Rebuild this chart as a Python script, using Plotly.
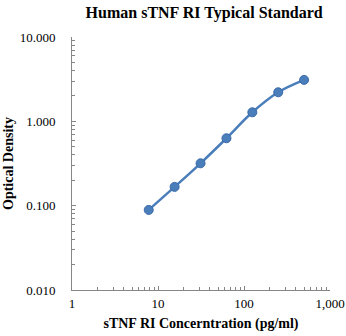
import plotly.graph_objects as go

conc = [7.8, 15.6, 31.25, 62.5, 125, 250, 500]
od = [0.089, 0.167, 0.318, 0.63, 1.28, 2.21, 3.10]

x_tickvals = [1, 10, 100, 1000]
x_ticktext = ["1", "10", "100", "1,000"]
y_tickvals = [0.01, 0.1, 1, 10]
y_ticktext = ["0.010", "0.100", "1.000", "10.000"]

x_minor = [m * d for d in (1, 10, 100) for m in range(2, 10)]
y_minor = [m * d for d in (0.01, 0.1, 1) for m in range(2, 10)]

serif = "Liberation Serif, Times New Roman, serif"
axis_col = "#868686"

fig = go.Figure()
fig.add_trace(go.Scatter(
    x=conc, y=od, mode="lines+markers",
    line=dict(color="#4a7ebb", width=2.5, shape="spline"),
    marker=dict(size=9, color="#4a7ebb", line=dict(color="#3a6aa8", width=1)),
    showlegend=False,
))

fig.update_layout(
    width=346, height=336,
    margin=dict(l=72, r=16, t=37, b=46),
    paper_bgcolor="white", plot_bgcolor="white",
    title=dict(text="<b>Human sTNF RI Typical Standard</b>", x=0.59, xanchor="center",
               y=0.962, yanchor="middle", font=dict(family=serif, size=16, color="black")),
    font=dict(family=serif, color="black"),
    xaxis=dict(type="log", range=[0, 3], showgrid=False, zeroline=False, automargin=False,
               showline=True, linecolor=axis_col, linewidth=1,
               tickvals=x_tickvals, ticktext=x_ticktext, ticks="inside", ticklen=4,
               tickcolor=axis_col, tickfont=dict(family=serif, size=13, color="black"),
               ticklabelstandoff=1,
               minor=dict(tickvals=x_minor, ticks="inside", ticklen=3, tickcolor=axis_col),
               title=dict(text="<b>sTNF RI Concerntration (pg/ml)</b>",
                          font=dict(family=serif, size=14, color="black"), standoff=8)),
    yaxis=dict(type="log", range=[-2, 1], showgrid=False, zeroline=False, automargin=False,
               showline=True, linecolor=axis_col, linewidth=1,
               tickvals=y_tickvals, ticktext=y_ticktext, ticks="inside", ticklen=4,
               tickcolor=axis_col, tickfont=dict(family=serif, size=13, color="black"),
               ticklabelstandoff=13,
               minor=dict(tickvals=y_minor, ticks="inside", ticklen=3, tickcolor=axis_col),
               title=dict(text="<b>Optical Density</b>",
                          font=dict(family=serif, size=14, color="black"), standoff=2)),
)

fig.write_html("out.html")
